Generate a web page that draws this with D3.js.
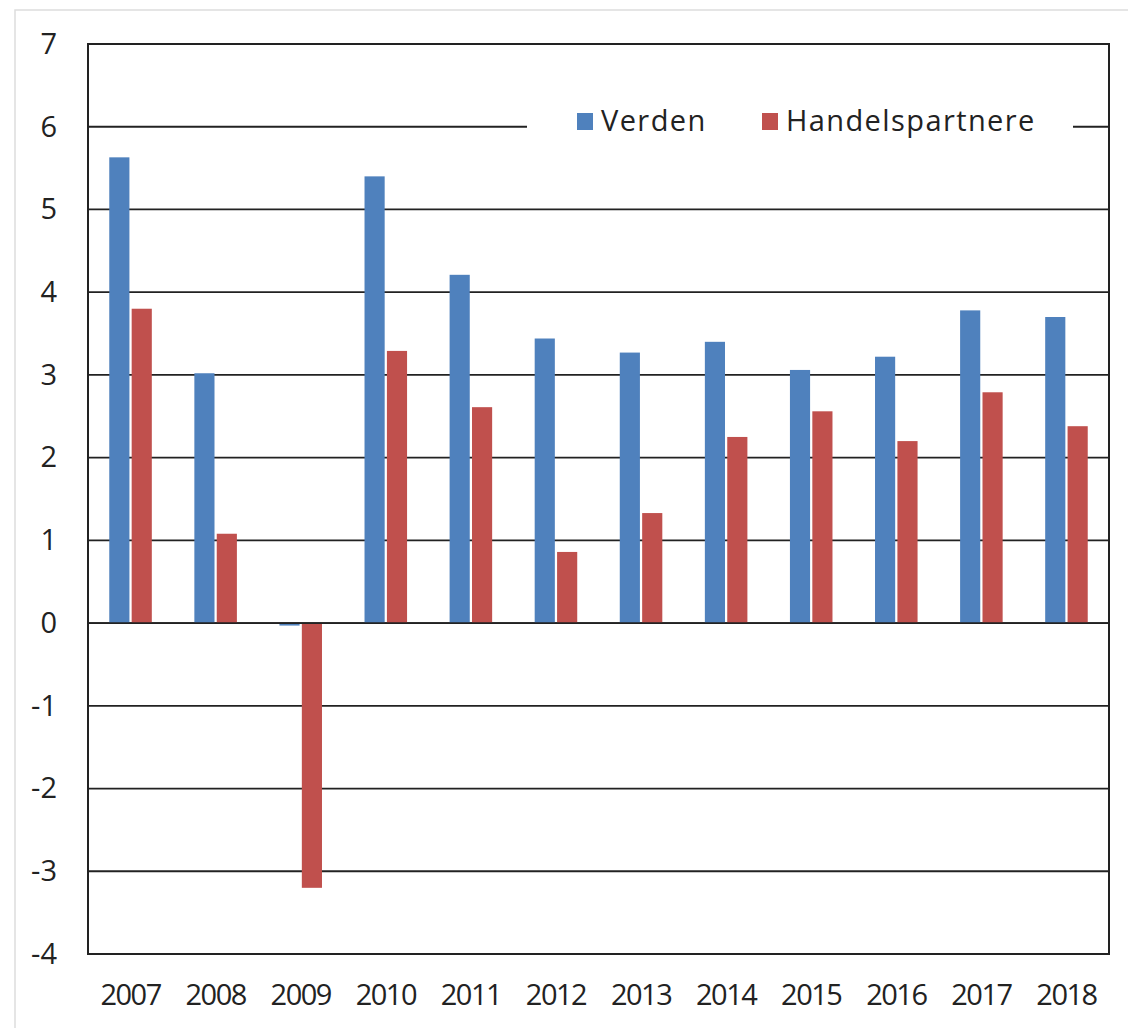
<!DOCTYPE html>
<html><head><meta charset="utf-8">
<script src="https://cdn.jsdelivr.net/npm/d3@7"></script>
<style>body{margin:0;background:#fff}svg{display:block}text{font-family:"Open Sans",sans-serif;fill:#222}</style>
</head><body>
<svg id="c" width="1128" height="1028"></svg>
<script>
const years = ["2007","2008","2009","2010","2011","2012","2013","2014","2015","2016","2017","2018"];
const verden = [5.63,3.02,-0.03,5.40,4.21,3.44,3.27,3.40,3.06,3.22,3.78,3.70];
const handel = [3.80,1.08,-3.20,3.29,2.61,0.86,1.33,2.25,2.56,2.20,2.79,2.38];
const seriesNames = ["Verden","Handelspartnere"];
const colors = ["#4F81BD","#C0504D"];
const yTicks = [-4,-3,-2,-1,0,1,2,3,4,5,6,7];

const svg = d3.select("#c");
const L=88,R=1109,T=44,B=954;
svg.append("rect").attr("x",15).attr("y",10).attr("width",1200).attr("height",1100).attr("fill","none").attr("stroke","#ddd").attr("stroke-width",1.5);

const x = d3.scaleBand().domain(years).range([L,R]).paddingInner(0.5).paddingOuter(0.25);
const xs = d3.scaleBand().domain(seriesNames).range([0,x.bandwidth()]).paddingInner(0.1);
const y = d3.scaleLinear().domain([-4,7]).range([B,T]);

svg.append("g").selectAll("line").data(yTicks).join("line")
  .attr("x1",L).attr("x2",R).attr("y1",d=>y(d)).attr("y2",d=>y(d))
  .attr("stroke","#222").attr("stroke-width",1.8);

const data = years.map((yr,i)=>({yr,vals:[verden[i],handel[i]]}));
const g = svg.append("g").selectAll("g").data(data).join("g").attr("transform",d=>`translate(${x(d.yr)},0)`);
g.selectAll("rect").data(d=>d.vals.map((v,j)=>({v,s:seriesNames[j],c:colors[j]}))).join("rect")
  .attr("x",d=>xs(d.s)).attr("width",xs.bandwidth())
  .attr("y",d=>y(Math.max(0,d.v))).attr("height",d=>Math.abs(y(d.v)-y(0)))
  .attr("fill",d=>d.c);

svg.append("line").attr("x1",L).attr("x2",R).attr("y1",y(0)).attr("y2",y(0)).attr("stroke","#222").attr("stroke-width",1.8);
svg.append("rect").attr("x",L).attr("y",T).attr("width",R-L).attr("height",B-T).attr("fill","none").attr("stroke","#222").attr("stroke-width",2);

const ya = d3.axisLeft(y).tickValues(yTicks).tickSize(0).tickPadding(31).tickFormat(d=>String(d));
const yg = svg.append("g").attr("transform",`translate(${L},0)`).call(ya);
yg.select(".domain").remove();
yg.selectAll("text").style("font-size","29px").style("font-family","Open Sans").attr("fill","#222");

const xa = d3.axisBottom(x).tickSize(0).tickPadding(30);
const xg = svg.append("g").attr("transform",`translate(0,${B})`).call(xa);
xg.select(".domain").remove();
xg.selectAll("text").style("font-size","29px").style("font-family","Open Sans").attr("fill","#222").style("letter-spacing","-1.5px");

const lg = svg.append("g");
lg.append("rect").attr("x",527).attr("y",100).attr("width",546).attr("height",45).attr("fill","#fff");
const lx = [577,762];
seriesNames.forEach((s,i)=>{
  lg.append("rect").attr("x",lx[i]).attr("y",113).attr("width",16).attr("height",17).attr("fill",colors[i]);
  lg.append("text").attr("x",lx[i]+24).attr("y",131).text(s).style("font-size","29px").style("letter-spacing","1.4px");
});
</script>
</body></html>
